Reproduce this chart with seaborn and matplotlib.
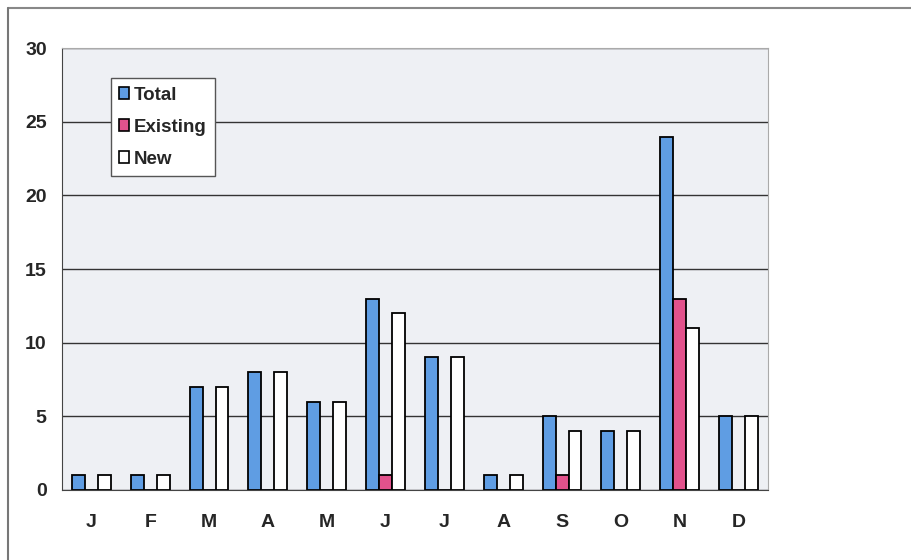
import numpy as np
import pandas as pd
import matplotlib
matplotlib.use("Agg")
import matplotlib.pyplot as plt
import seaborn as sns
from matplotlib.lines import Line2D

# data
months = ["J", "F", "M", "A", "M", "J", "J", "A", "S", "O", "N", "D"]
total = [1, 1, 7, 8, 6, 13, 9, 1, 5, 4, 24, 5]
existing = [0, 0, 0, 0, 0, 1, 0, 0, 1, 0, 13, 0]
new = [1, 1, 7, 8, 6, 12, 9, 1, 4, 4, 11, 5]
series = ["Total", "Existing", "New"]
colors = ["#5f9de3", "#e2528c", "#ffffff"]

rows = []
for i, m in enumerate(months):
    for s, vals in zip(series, [total, existing, new]):
        rows.append({"idx": i, "Month": m, "Series": s, "Count": vals[i]})
df = pd.DataFrame(rows)

sns.set_style("white")
plt.rcParams["font.family"] = ["Liberation Sans Narrow", "Liberation Sans", "DejaVu Sans"]

fig = plt.figure(figsize=(9.11, 5.60), dpi=100)
ax = fig.add_axes([0.068, 0.125, 0.775, 0.789])

sns.barplot(data=df, x="idx", y="Count", hue="Series", hue_order=series,
            palette=colors, width=0.66, edgecolor="black", linewidth=1.3,
            saturation=1, ax=ax, legend=False)

ax.set_facecolor("#eef0f4")
ax.set_ylim(0, 30)
ax.set_xlim(-0.5, len(months) - 0.5)
ax.set_yticks(range(0, 31, 5))
ax.yaxis.grid(True, color="#333333", linewidth=1.0)
ax.set_axisbelow(True)

ax.set_xticks(range(len(months)))
ax.set_xticklabels(months)
ax.set_xticks(np.arange(-0.5, len(months), 1), minor=True)
ax.tick_params(axis="x", which="major", length=0, pad=17, labelsize=14)
ax.tick_params(axis="x", which="minor", length=5, direction="out", color="#444444")
ax.tick_params(axis="y", length=5, direction="out", color="#444444", labelsize=14, pad=6)
for lab in ax.get_xticklabels() + ax.get_yticklabels():
    lab.set_fontweight("bold")

ax.set_xlabel("")
ax.set_ylabel("")
ax.spines["left"].set_color("#444444")
ax.spines["bottom"].set_color("#444444")
ax.spines["top"].set_color("#aaaaaa")
ax.spines["right"].set_color("#aaaaaa")

handles = [plt.Rectangle((0, 0), 1, 1, facecolor=c, edgecolor="black", linewidth=1.2)
           for c in colors]
leg = ax.legend(handles, series, loc="upper left", bbox_to_anchor=(0.069, 0.932),
                borderaxespad=0, frameon=True, fancybox=False, edgecolor="#555555",
                framealpha=1, handlelength=0.55, handleheight=0.55, handletextpad=0.25,
                labelspacing=0.8, borderpad=0.45,
                prop={"weight": "bold", "size": 13.5})
leg.get_frame().set_facecolor("white")
leg.get_frame().set_linewidth(1.0)

# outer chart frame
fig.add_artist(Line2D([8 / 911, 1.0], [1 - 8 / 560, 1 - 8 / 560], color="#888888", lw=1.5))
fig.add_artist(Line2D([8 / 911, 8 / 911], [0, 1 - 8 / 560], color="#777777", lw=1.5))

fig.savefig("out.png", dpi=100, facecolor="white")
